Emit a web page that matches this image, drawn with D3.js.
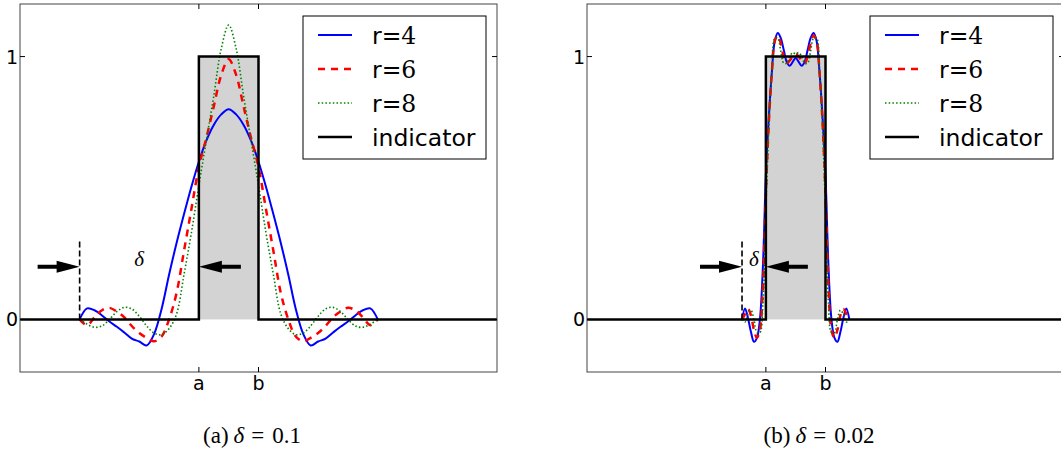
<!DOCTYPE html>
<html>
<head>
<meta charset="utf-8">
<script src="https://cdn.jsdelivr.net/npm/d3@7"></script>
<style>
  body { margin: 0; background: #fff; }
  svg { display: block; }
</style>
</head>
<body>
<script>
// ---- data ----
const aVal = 0.15, bVal = 0.2;
const deltas = [0.1, 0.02];
const captionLabels = ["(a)", "(b)"];
const captionValues = ["0.1", "0.02"];
const seriesNames = ["r=4", "r=6", "r=8", "indicator"];
const xTickLabels = ["a", "b"];
const yTickValues = [0, 1];

// indicator function corners
const indX = [0, 0.15, 0.15, 0.2, 0.2, 0.4];
const indY = [0, 0, 1, 1, 0, 0];

// panel (a), delta = 0.1
const xA = [0.05, 0.05625, 0.0625, 0.06875, 0.075, 0.08125, 0.0875, 0.09375, 0.1, 0.10625,
  0.1125, 0.11875, 0.125, 0.13125, 0.1375, 0.14375, 0.15, 0.15625, 0.1625, 0.16875,
  0.175, 0.18125, 0.1875, 0.19375, 0.2, 0.20625, 0.2125, 0.21875, 0.225, 0.23125,
  0.2375, 0.24375, 0.25, 0.25625, 0.2625, 0.26875, 0.275, 0.28125, 0.2875, 0.29375, 0.3];
const r4A = [0.0, 0.042, 0.035, 0.015, -0.008, -0.028, -0.05, -0.073, -0.084, -0.099,
  -0.055, 0.04, 0.17, 0.29, 0.4, 0.505, 0.6, 0.68, 0.74, 0.78,
  0.8, 0.78, 0.74, 0.68, 0.6, 0.505, 0.4, 0.29, 0.17, 0.04,
  -0.055, -0.099, -0.084, -0.073, -0.05, -0.028, -0.008, 0.015, 0.035, 0.042, 0.0];
const r6A = [0.0, -0.022, 0.008, 0.035, 0.044, 0.03, 0.008, -0.025, -0.052, -0.07,
  -0.083, -0.065, 0.0, 0.1, 0.26, 0.42, 0.58, 0.69, 0.81, 0.93,
  0.99, 0.93, 0.81, 0.69, 0.58, 0.42, 0.26, 0.1, 0.0, -0.065,
  -0.083, -0.07, -0.052, -0.025, 0.008, 0.03, 0.044, 0.035, 0.008, -0.022, 0.0];
const r8A = [0.0, -0.018, -0.03, -0.025, 0.0, 0.03, 0.046, 0.04, 0.012, -0.025,
  -0.052, -0.058, -0.035, 0.02, 0.17, 0.33, 0.51, 0.68, 0.85, 1.03,
  1.12, 1.03, 0.85, 0.68, 0.51, 0.33, 0.17, 0.02, -0.035, -0.058,
  -0.052, -0.025, 0.012, 0.04, 0.046, 0.03, 0.0, -0.025, -0.03, -0.018, 0.0];

// panel (b), delta = 0.02
const xB = [0.13, 0.1325, 0.135, 0.1375, 0.14, 0.1425, 0.145, 0.1475, 0.15, 0.1525,
  0.155, 0.1575, 0.16, 0.1625, 0.165, 0.1675, 0.17, 0.1725, 0.175, 0.1775,
  0.18, 0.1825, 0.185, 0.1875, 0.19, 0.1925, 0.195, 0.1975, 0.2, 0.2025,
  0.205, 0.2075, 0.21, 0.2125, 0.215, 0.2175, 0.22];
const r4B = [0.0, 0.042, 0.005, -0.048, -0.085, -0.07, 0.0, 0.2, 0.55, 0.77,
  0.94, 1.06, 1.09, 1.07, 1.025, 0.98, 0.965, 0.98, 0.995, 0.98,
  0.965, 0.98, 1.025, 1.07, 1.09, 1.06, 0.94, 0.77, 0.55, 0.2,
  0.0, -0.07, -0.085, -0.048, 0.005, 0.042, 0.0];
const r6B = [0.0, 0.02, 0.04, 0.015, -0.04, -0.07, -0.04, 0.12, 0.48, 0.75,
  0.94, 1.06, 1.08, 1.05, 1.0, 0.975, 0.985, 1.0, 1.01, 1.0,
  0.985, 0.975, 1.0, 1.05, 1.08, 1.06, 0.94, 0.75, 0.48, 0.12,
  -0.04, -0.07, -0.04, 0.015, 0.04, 0.02, 0.0];
const r8B = [0.0, -0.01, 0.02, 0.035, 0.0, -0.05, -0.05, 0.06, 0.42, 0.73,
  0.95, 1.07, 1.07, 1.02, 0.975, 0.975, 1.0, 1.015, 1.01, 1.015,
  1.0, 0.975, 0.975, 1.02, 1.07, 1.07, 0.95, 0.73, 0.42, 0.06,
  -0.05, -0.05, 0.0, 0.035, 0.02, -0.01, 0.0];

// ---- styles ----
const lineStyles = [
  { color: "#0000ff", width: 2, dash: null },
  { color: "#ff0000", width: 2.5, dash: "7,6" },
  { color: "#008000", width: 1.6, dash: "1.5,2.2" },
  { color: "#000000", width: 2.5, dash: null }
];

const W = 1061, H = 450;
const svg = d3.select("body").append("svg")
  .attr("width", W).attr("height", H)
  .style("font-family", "'DejaVu Sans', sans-serif");

const panels = [
  { left: 20, xs: xA, ys: [r4A, r6A, r8A], delta: deltas[0], capX: 252 },
  { left: 587, xs: xB, ys: [r4B, r6B, r8B], delta: deltas[1], capX: 819 }
];

const axW = 477, axTop = 4, axBottom = 372;

panels.forEach((p, pi) => {
  const x = d3.scaleLinear().domain([0, 0.4]).range([p.left, p.left + axW]);
  const y = d3.scaleLinear().domain([-0.2, 1.2]).range([axBottom, axTop]);
  const g = svg.append("g");

  // shaded indicator area
  g.append("rect")
    .attr("x", x(aVal)).attr("y", y(1))
    .attr("width", x(bVal) - x(aVal)).attr("height", y(0) - y(1))
    .attr("fill", "#d3d3d3");

  // approximations
  const line = d3.line()
    .x(d => x(d[0])).y(d => y(d[1]))
    .curve(d3.curveCatmullRom.alpha(0.5));
  p.ys.forEach((ys, si) => {
    const st = lineStyles[si];
    g.append("path")
      .attr("d", line(p.xs.map((v, i) => [v, ys[i]])))
      .attr("fill", "none")
      .attr("stroke", st.color)
      .attr("stroke-width", st.width)
      .attr("stroke-dasharray", st.dash);
  });

  // indicator
  const indLine = d3.line().x(d => x(d[0])).y(d => y(d[1]));
  g.append("path")
    .attr("d", indLine(indX.map((v, i) => [v, indY[i]])))
    .attr("fill", "none")
    .attr("stroke", "#000")
    .attr("stroke-width", 2.5)
    .attr("stroke-linejoin", "miter");

  // dashed marker at a - delta
  const xd = x(aVal - p.delta);
  g.append("line")
    .attr("x1", xd).attr("x2", xd)
    .attr("y1", y(0)).attr("y2", y(0.3))
    .attr("stroke", "#000").attr("stroke-width", 1.6)
    .attr("stroke-dasharray", "6,3");

  // arrows
  const ay = y(0.2);
  function arrow(tip, dir) {
    const len = 42, head = 23, hw = 6, sw = 2;
    const base = tip - dir * head, tail = tip - dir * len;
    g.append("path")
      .attr("d", `M${tail},${ay - sw}L${base},${ay - sw}L${base},${ay - hw}L${tip},${ay}` +
        `L${base},${ay + hw}L${base},${ay + sw}L${tail},${ay + sw}Z`)
      .attr("fill", "#000");
  }
  arrow(xd, 1);
  arrow(x(aVal), -1);

  g.append("text")
    .attr("x", (xd + x(aVal)) / 2).attr("y", ay - 1)
    .attr("text-anchor", "middle")
    .style("font-family", "'Liberation Serif', serif")
    .style("font-style", "italic")
    .style("font-size", "21px")
    .text("δ");

  // frame
  g.append("rect")
    .attr("x", p.left).attr("y", axTop)
    .attr("width", axW).attr("height", axBottom - axTop)
    .attr("fill", "none").attr("stroke", "#444").attr("stroke-width", 1);

  // ticks (inside, all four sides)
  const tl = 5;
  [aVal, bVal].forEach((v, i) => {
    const xp = x(v);
    g.append("line").attr("x1", xp).attr("x2", xp).attr("y1", axBottom).attr("y2", axBottom - tl)
      .attr("stroke", "#000");
    g.append("line").attr("x1", xp).attr("x2", xp).attr("y1", axTop).attr("y2", axTop + tl)
      .attr("stroke", "#000");
    g.append("text").attr("x", xp).attr("y", axBottom + 18)
      .attr("text-anchor", "middle").style("font-size", "19px")
      .text(xTickLabels[i]);
  });
  yTickValues.forEach(v => {
    const yp = y(v);
    g.append("line").attr("x1", p.left).attr("x2", p.left + tl).attr("y1", yp).attr("y2", yp)
      .attr("stroke", "#000");
    g.append("line").attr("x1", p.left + axW).attr("x2", p.left + axW - tl).attr("y1", yp).attr("y2", yp)
      .attr("stroke", "#000");
    g.append("text").attr("x", p.left - 2).attr("y", yp + 7)
      .attr("text-anchor", "end").style("font-size", "19px")
      .text(v);
  });

  // legend
  const lgW = 183, lgH = 143;
  const lgX = p.left + axW - 11 - lgW, lgY = 16;
  const lg = g.append("g");
  lg.append("rect").attr("x", lgX).attr("y", lgY).attr("width", lgW).attr("height", lgH)
    .attr("fill", "#fff").attr("stroke", "#000").attr("stroke-width", 1);
  seriesNames.forEach((name, i) => {
    const ry = lgY + 19 + i * 34;
    const st = lineStyles[i];
    lg.append("line").attr("x1", lgX + 15).attr("x2", lgX + 49).attr("y1", ry).attr("y2", ry)
      .attr("stroke", st.color).attr("stroke-width", st.width)
      .attr("stroke-dasharray", st.dash);
    const t = lg.append("text").attr("x", lgX + 69).attr("y", ry + 8.5).style("font-size", "23.5px");
    const m = name.match(/^(r=)(\d+)$/);
    if (m) {
      t.append("tspan").text(m[1]);
      t.append("tspan").style("font-family", "'DejaVu Serif', serif").text(m[2]);
    } else {
      t.text(name);
    }
  });

  // caption
  const cap = svg.append("text")
    .attr("x", p.capX).attr("y", 443)
    .attr("text-anchor", "middle")
    .style("font-family", "'Liberation Serif', serif")
    .style("font-size", "23px");
  cap.append("tspan").text(captionLabels[pi]);
  cap.append("tspan").attr("dx", 5).style("font-style", "italic").text("δ");
  cap.append("tspan").attr("dx", 7).text("=");
  cap.append("tspan").attr("dx", 8).text(captionValues[pi]);
});
</script>
</body>
</html>
